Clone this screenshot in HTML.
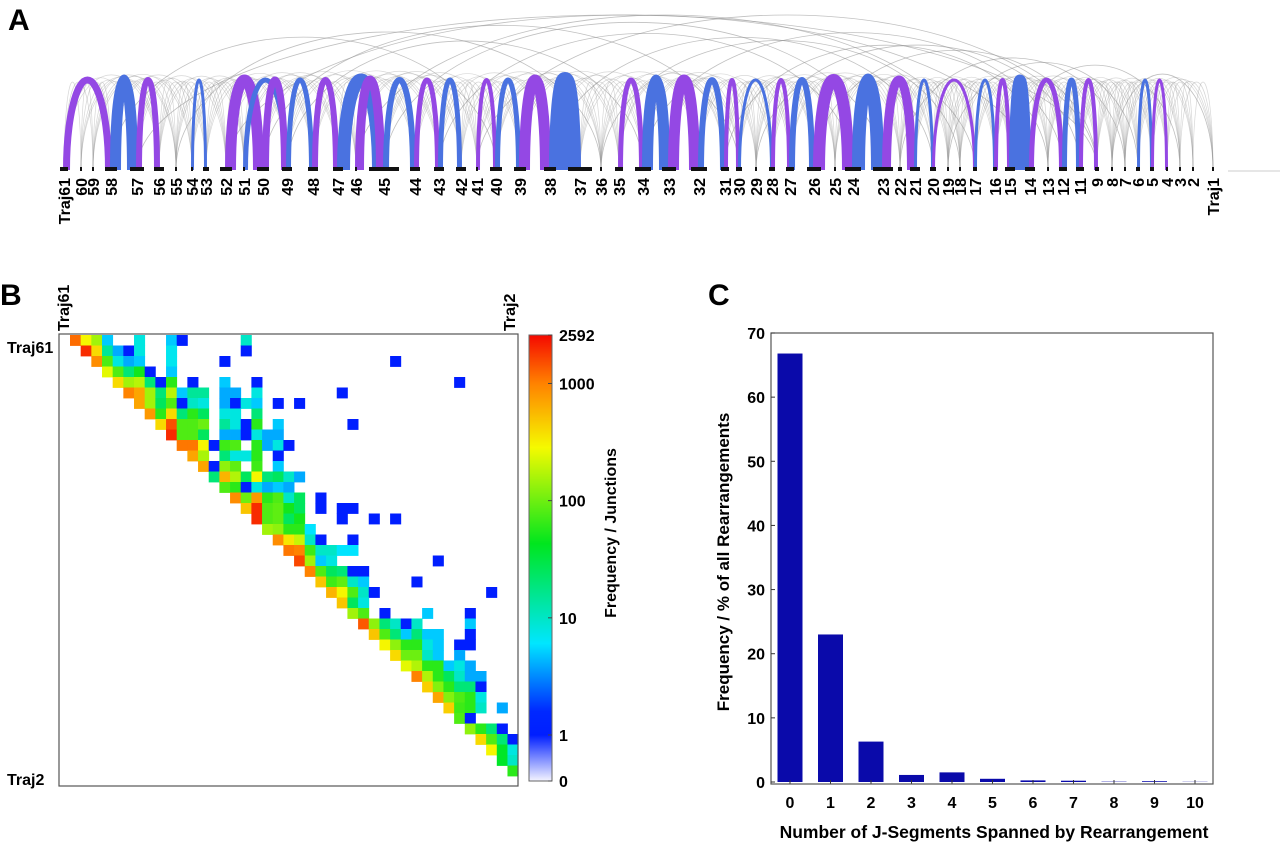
<!DOCTYPE html>
<html><head><meta charset="utf-8"><style>
html,body{margin:0;padding:0;background:#fff;}
svg{display:block;font-family:"Liberation Sans",Arial,sans-serif;}
</style></head><body>
<svg id="fig" width="1280" height="846" viewBox="0 0 1280 846" xmlns="http://www.w3.org/2000/svg">
<rect width="1280" height="846" fill="#fff"/>
<text x="8" y="30" font-size="30" font-weight="bold">A</text>
<text x="0" y="305" font-size="30" font-weight="bold">B</text>
<text x="708" y="305" font-size="30" font-weight="bold">C</text>
<g id="arcs"></g>
<g id="heat"></g>
<g id="bars"></g>
</svg>
<script>
const NS="http://www.w3.org/2000/svg";
function mk(tag,attrs,parent){const e=document.createElementNS(NS,tag);for(const k in attrs)e.setAttribute(k,attrs[k]);parent.appendChild(e);return e;}
function lbl(parent,txt,attrs,name){const t=mk('text',attrs,parent);t.textContent=txt;return t;}

/* ---------- Panel A: arc diagram ---------- */
const nodeLabels=["Traj61","60","59","58","57","56","55","54","53","52","51","50","49","48","47","46","45","44","43","42","41","40","39","38","37","36","35","34","33","32","31","30","29","28","27","26","25","24","23","22","21","20","19","18","17","16","15","14","13","12","11","9","8","7","6","5","4","3","2","Traj1"];
const nodeX=[64,81,93,111,137,159,176,192,206,226,244,263,287,313,338,356,384,415,439,461,477,496,520,550,580,601,619,643,669,699,725,739,756,772,790,814,835,853,883,900,915,933,948,960,975,995,1010,1030,1048,1063,1080,1097,1112,1125,1138,1152,1167,1180,1193,1213];
const nodeWidth=[8,2,2,12,14,10,1,1,6,12,2,12,10,10,10,2,30,10,10,10,2,12,12,12,24,1,8,16,14,16,8,6,2,6,8,14,2,16,20,4,10,6,2,2,4,4,10,10,2,8,8,4,2,2,4,4,2,2,2,2];
const linkFrom=["Traj61","58","57","54","52","51","50","49","48","47","46","45","44","43","41","40","39","38","35","34","33","32","31","30","28","27","26","24","23","21","20","17","16","15","14","12","11","6","5"];
const linkTo  =["58","57","56","53","50","49","49","48","47","45","45","44","43","42","40","39","38","37","34","33","32","31","30","28","27","26","24","23","21","20","17","16","15","14","12","11","9","5","4"];
const linkWeight=[7,11,6,3,11,5,7,5,6,13,9,6,5,5,4,5,11,16,5,11,11,6,4,3,4,6,12,13,9,3,3,3,4,11,5,5,4,3,3];
const longFrom=["57","52","46","41","34","49","58","55","45","38","26","50","43","31","22","36","29","19","15","8"];
const longTo  =["9","14","17","9","12","34","40","36","23","20","9","30","24","13","7","18","11","6","3","Traj1"];
const A=document.getElementById('arcs');
const BASE=170;
function nx(l){return nodeX[nodeLabels.indexOf(l)];}
function arcPath(x1,x2,h){const rx=(x2-x1)/2;return `M${x1},${BASE} A${rx},${h} 0 0 1 ${x2},${BASE}`;}
function arcH(span){return Math.min(155,88+Math.max(0,span-40)*0.13);}
for(let i=0;i<nodeLabels.length;i++){
  for(let k=1;k<=5;k++){
    const j=i+k; if(j>=nodeLabels.length) break;
    const x1=nodeX[i],x2=nodeX[j];
    const p=mk('path',{d:arcPath(x1,x2,arcH(x2-x1)),fill:'none',stroke:'#9a9a9a','stroke-opacity':0.4,'stroke-width':0.7},A);
    
    
  }
}
for(let i=0;i<longFrom.length;i++){
  const x1=nx(longFrom[i]),x2=nx(longTo[i]);
  const p=mk('path',{d:arcPath(x1,x2,arcH(x2-x1)),fill:'none',stroke:'#8c8c8c','stroke-opacity':0.55,'stroke-width':0.8},A);
  
  
}
for(let i=0;i<linkFrom.length;i++){
  const w=linkWeight[i];
  const x1=nx(linkFrom[i])+w/2-1,x2=nx(linkTo[i])-w/2+1;
  const col=i%2===0?'#9448e4':'#4a72e0';
  const p=mk('path',{d:arcPath(x1,x2,90),fill:'none',stroke:col,'stroke-width':w},A);
  
  
}
mk('line',{x1:1228,y1:171,x2:1280,y2:171,stroke:'#ddd','stroke-width':1.5},A);
for(let i=0;i<nodeLabels.length;i++){
  const w=Math.max(2,nodeWidth[i]);
  const r=mk('rect',{x:nodeX[i]-w/2,y:167,width:w,height:4,fill:'#111'},A);
  
  
  lbl(A,nodeLabels[i],{transform:`translate(${nodeX[i]+6},178) rotate(-90)`,'text-anchor':'end','font-size':16,'font-weight':'bold',fill:'#000'},'segment-label');
}

/* ---------- Panel B: heatmap ---------- */
const heatRowIdx=[0,0,0,0,0,0,0,0, 1,1,1,1,1,1,1,1, 2,2,2,2,2,2,2,2, 3,3,3,3,3,3, 4,4,4,4,4,4,4,4,4,4, 5,5,5,5,5,5,5,5,5,5,5,5, 6,6,6,6,6,6,6,6,6,6,6,6,6, 7,7,7,7,7,7,7,7,7, 8,8,8,8,8,8,8,8,8,8,8, 9,9,9,9,9,9,9,9,9,9, 10,10,10,10,10,10,10,10,10,10, 11,11,11,11,11,11,11, 12,12,12,12,12,12, 13,13,13,13,13,13,13,13,13, 14,14,14,14,14,14,14, 15,15,15,15,15,15,15,15, 16,16,16,16,16,16,16,16,16, 17,17,17,17,17,17,17,17, 18,18,18,18,18, 19,19,19,19,19,19, 20,20,20,20,20,20,20, 21,21,21,21,21, 22,22,22,22,22,22, 23,23,23,23,23,23, 24,24,24,24,24,24, 25,25,25, 26,26,26,26,26, 27,27,27,27,27,27,27, 28,28,28,28,28,28,28,28, 29,29,29,29,29,29,29,29, 30,30,30,30,30,30, 31,31,31,31,31,31,31, 32,32,32,32,32,32,32, 33,33,33,33,33,33, 34,34,34,34,34, 35,35,35,35,35, 36,36, 37,37,37,37, 38,38,38,38, 39,39,39, 40,40, 41];
const heatColIdx=[0,1,2,3,6,9,10,16, 1,2,3,4,5,6,9,16, 2,3,4,5,6,9,14,30, 3,4,5,6,7,9, 4,5,6,7,8,9,11,14,17,36, 5,6,7,8,9,10,11,12,14,15,17,25, 6,7,8,9,10,11,12,14,15,16,17,19,21, 7,8,9,10,11,12,14,15,17, 8,9,10,11,12,14,15,16,17,19,26, 9,10,11,12,14,15,16,17,18,19, 10,11,12,13,14,15,17,18,19,20, 11,12,14,15,16,17,19, 12,13,14,15,17,19, 13,14,15,16,17,18,19,20,21, 14,15,16,17,18,19,20, 15,16,17,18,19,20,21,23, 16,17,18,19,20,21,23,25,26, 17,18,19,20,21,25,28,30, 18,19,20,21,22, 19,20,21,22,23,26, 20,21,22,23,24,25,26, 21,22,23,24,34, 22,23,24,25,26,27, 23,24,25,26,27,32, 24,25,26,27,28,39, 25,26,27, 26,27,29,33,37, 27,28,29,30,31,32,37, 28,29,30,31,32,33,34,37, 29,30,31,32,33,34,36,37, 30,31,32,33,34,36, 31,32,33,34,35,36,37, 32,33,34,35,36,37,38, 33,34,35,36,37,38, 34,35,36,37,38, 35,36,37,38,40, 36,37, 37,38,39,40, 38,39,40,41, 39,40,41, 40,41, 41];
const heatVal=[1200,300,150,5,8,5,1,10, 2000,400,15,4,1,8,7,1, 900,80,8,4,5,7,1,1, 250,80,20,50,1,5, 400,150,180,20,1,60,1,5,1,1, 1000,700,150,20,180,5,15,15,4,4,8,1, 700,150,25,80,1,10,8,4,1,8,5,1,1, 800,60,400,20,60,25,8,8,20, 400,1500,80,80,100,15,8,1,60,5,1, 2000,80,80,25,4,4,1,8,4,4, 1100,1100,300,1,70,80,60,4,8,1, 700,160,20,8,8,60,1, 700,1,130,90,70,5, 20,600,170,25,300,20,25,10,4, 80,60,1,8,4,5,4, 900,100,800,60,80,10,25,1, 500,2000,80,90,50,25,1,1,1, 2000,80,90,25,50,1,1,1, 150,130,60,60,6, 900,350,200,10,1,1, 1100,1000,70,10,10,6,6, 1600,150,5,8,1, 1000,80,25,20,1,1, 500,70,90,10,5,1, 600,300,80,10,1,1, 500,25,8, 150,80,1,5,1, 1400,130,20,10,1,10,5, 500,80,20,5,20,5,5,1, 300,130,60,60,8,5,1,1, 400,100,100,10,5,4, 250,170,60,60,5,8,4, 1000,170,60,25,10,4,4, 450,120,60,20,20,1, 700,120,80,60,8, 450,70,60,10,4, 80,1, 130,60,20,1, 400,80,20,1, 300,40,8, 40,10, 60];
const cbTicks=[0,1,10,100,1000,2592];
const VMAX=2592;
const H=document.getElementById('heat');
const hx0=70,hy0=335,cellW=10.67,cellH=10.5;
function jet(t){
  const stops=[[0,[0,30,255]],[0.06,[0,40,255]],[0.23,[0,230,255]],[0.48,[0,230,30]],[0.72,[245,250,0]],[0.88,[255,130,0]],[1,[245,10,0]]];
  t=Math.max(0,Math.min(1,t));
  for(let i=1;i<stops.length;i++){if(t<=stops[i][0]){const a=stops[i-1],b=stops[i];const f=(t-a[0])/(b[0]-a[0]);return 'rgb('+a[1].map((v,k)=>Math.round(v+(b[1][k]-v)*f)).join(',')+')';}}
  return 'rgb(245,10,0)';
}
function vColor(v){return jet(Math.log10(Math.max(v,1))/Math.log10(VMAX));}
for(let i=0;i<heatVal.length;i++){
  const r=mk('rect',{x:hx0+heatColIdx[i]*cellW,y:hy0+heatRowIdx[i]*cellH,width:cellW+0.4,height:cellH+0.4,fill:vColor(heatVal[i])},H);
  
  
}
mk('rect',{x:59,y:334,width:459,height:452,fill:'none',stroke:'#555','stroke-width':1.2},H);
lbl(H,'Traj61',{transform:'translate(69,331) rotate(-90)','font-size':16,'font-weight':'bold'},'heatmap-top-left-label');
lbl(H,'Traj2',{transform:'translate(515,331) rotate(-90)','font-size':16,'font-weight':'bold'},'heatmap-top-right-label');
lbl(H,'Traj61',{x:7,y:353,'font-size':16,'font-weight':'bold'},'heatmap-row-top-label');
lbl(H,'Traj2',{x:7,y:785,'font-size':16,'font-weight':'bold'},'heatmap-row-bottom-label');
const cbx=529,cbw=23,cbTop=335,cbOne=735,cbBot=781;
function cbY(v){return cbOne-(Math.log10(v))*((cbOne-cbTop)/Math.log10(VMAX));}
for(let y=cbTop;y<cbOne;y+=1){const v=Math.pow(10,(cbOne-y)/(cbOne-cbTop)*Math.log10(VMAX));mk('rect',{x:cbx,y:y,width:cbw,height:1.2,fill:vColor(v)},H);}
const grd=mk('linearGradient',{id:'cbg',x1:0,y1:0,x2:0,y2:1},mk('defs',{},H));
mk('stop',{offset:0,'stop-color':'rgb(0,30,255)'},grd);mk('stop',{offset:1,'stop-color':'#f4f4ff'},grd);
mk('rect',{x:cbx,y:cbOne,width:cbw,height:cbBot-cbOne,fill:'url(#cbg)'},H);
mk('rect',{x:cbx,y:cbTop,width:cbw,height:cbBot-cbTop,fill:'none',stroke:'#666','stroke-width':1},H);
for(const v of cbTicks){
  const y=v===0?cbBot:cbY(v);
  mk('line',{x1:cbx+cbw-4,y1:y,x2:cbx+cbw,y2:y,stroke:'#444'},H);
  lbl(H,String(v),{x:559,y:y+6,'font-size':16,'font-weight':'bold'},'colorbar-tick-label');
}
lbl(H,'Frequency / Junctions',{transform:'translate(616,533) rotate(-90)','font-size':16,'font-weight':'bold','text-anchor':'middle'},'colorbar-title');

/* ---------- Panel C: bar chart ---------- */
const barCats=["0","1","2","3","4","5","6","7","8","9","10"];
const barVals=[66.8,23.0,6.3,1.1,1.5,0.5,0.25,0.2,0.05,0.12,0.03];
const yTicks=[0,10,20,30,40,50,60,70];
const Bg=document.getElementById('bars');
const px0=771,px1=1213,py0=333,py1=784;
const yZero=782,yMax=70;
function ys(v){return yZero-v*(yZero-py0)/yMax;}
function xs(i){return 790+i*40.5;}
for(let i=0;i<barVals.length;i++){
  const b=mk('rect',{x:xs(i)-12.5,y:ys(barVals[i]),width:25,height:yZero-ys(barVals[i]),fill:'#0a0aaa'},Bg);
  
  
  mk('line',{x1:xs(i),y1:py1,x2:xs(i),y2:py1-4,stroke:'#333'},Bg);
  lbl(Bg,barCats[i],{x:xs(i),y:808,'font-size':16,'font-weight':'bold','text-anchor':'middle'},'x-tick-label');
}
mk('rect',{x:px0,y:py0,width:px1-px0,height:py1-py0,fill:'none',stroke:'#555','stroke-width':1.2},Bg);
for(const t of yTicks){
  mk('line',{x1:px0,y1:ys(t),x2:px0+4,y2:ys(t),stroke:'#333'},Bg);
  lbl(Bg,String(t),{x:765,y:ys(t)+6,'font-size':16,'font-weight':'bold','text-anchor':'end'},'y-tick-label');
}
lbl(Bg,'Frequency / % of all Rearrangements',{transform:'translate(729,562) rotate(-90)','font-size':17,'font-weight':'bold','text-anchor':'middle'},'y-axis-title');
lbl(Bg,'Number of J-Segments Spanned by Rearrangement',{x:994,y:838,'font-size':17.5,'font-weight':'bold','text-anchor':'middle'},'x-axis-title');
</script>
</body></html>
